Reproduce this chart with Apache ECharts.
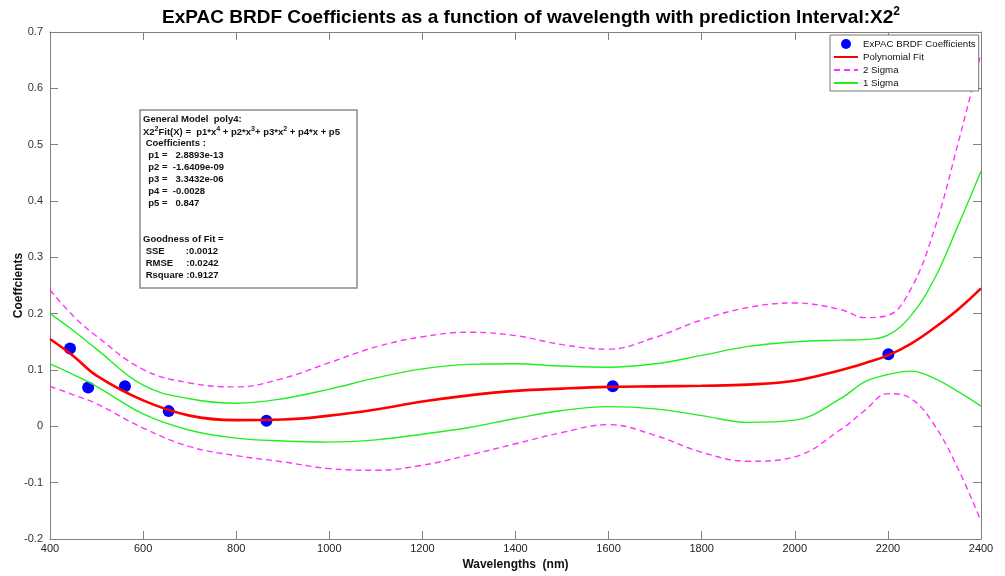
<!DOCTYPE html>
<html>
<head>
<meta charset="utf-8">
<script src="https://cdn.jsdelivr.net/npm/echarts@6/dist/echarts.min.js"></script>
<style>
  html, body { margin: 0; padding: 0; background: #fff; }
  #chart { width: 1005px; height: 576px; }
</style>
</head>
<body>
<div id="chart"></div>
<script>
// Measured band centres (nm) and the BRDF coefficient at each band
const bandWavelengths = [443, 482, 561, 655, 865, 1609, 2201];
const bandCoefficients = [0.138, 0.069, 0.071, 0.027, 0.010, 0.071, 0.128];

// Wavelength grid (nm) on which the fit and its bounds are tabulated
const curveWavelengths = [400, 450, 500, 600, 700, 800, 900, 1000, 1100, 1200, 1300, 1400, 1500,
  1600, 1700, 1800, 1900, 2000, 2100, 2150, 2200, 2250, 2300, 2350, 2400];

// Polynomial fit values
const fitValues = [0.155, 0.125, 0.090, 0.046, 0.019, 0.011, 0.012, 0.019, 0.030, 0.044, 0.055, 0.063, 0.067,
  0.070, 0.071, 0.072, 0.074, 0.081, 0.100, 0.112, 0.126, 0.147, 0.175, 0.207, 0.245];

// 1 sigma bounds
const sigma1Upper = [0.200, 0.170, 0.137, 0.073, 0.049, 0.041, 0.049, 0.066, 0.086, 0.102, 0.110, 0.111, 0.107,
  0.105, 0.111, 0.126, 0.142, 0.150, 0.153, 0.154, 0.162, 0.197, 0.262, 0.355, 0.453];
const sigma1Lower = [0.111, 0.092, 0.071, 0.022, -0.007, -0.021, -0.026, -0.028, -0.024, -0.014, -0.002, 0.014, 0.028,
  0.035, 0.031, 0.019, 0.007, 0.011, 0.050, 0.079, 0.092, 0.098, 0.085, 0.062, 0.036];

// 2 sigma bounds
const sigma2Upper = [0.242, 0.196, 0.160, 0.101, 0.077, 0.070, 0.085, 0.113, 0.141, 0.159, 0.167, 0.161, 0.145,
  0.137, 0.158, 0.189, 0.211, 0.219, 0.207, 0.193, 0.197, 0.245, 0.350, 0.500, 0.662];
const sigma2Lower = [0.071, 0.056, 0.040, -0.003, -0.036, -0.052, -0.063, -0.075, -0.078, -0.069, -0.051, -0.031, -0.011,
  0.003, -0.016, -0.046, -0.062, -0.054, -0.005, 0.028, 0.058, 0.049, 0.002, -0.074, -0.168];

// Axis ranges and tick spacing
const xRange = [400, 2400], xStep = 200;
const yRange = [-0.2, 0.7], yStep = 0.1;

// Fit summary shown in the annotation box
const modelLines = [
  ['General Model  poly4:'],
  ['X2', '2', 'Fit(X) =  p1*x', '4', ' + p2*x', '3', '+ p3*x', '2', ' + p4*x + p5'],
  [' Coefficients :'],
  ['  p1 =   2.8893e-13'],
  ['  p2 =  -1.6409e-09'],
  ['  p3 =   3.3432e-06'],
  ['  p4 =  -0.0028'],
  ['  p5 =   0.847'],
  [''],
  [''],
  ['Goodness of Fit ='],
  [' SSE        :0.0012'],
  [' RMSE     :0.0242'],
  [' Rsquare :0.9127']
];

const FONT = "'Liberation Sans', Arial, sans-serif";
const pairs = (xs, ys) => xs.map((x, i) => [x, ys[i]]);

// Alternate plain / superscript pieces into rich text
function richLine(parts) {
  return parts.map((p, i) => (i % 2 === 0 ? '{b|' + p + '}' : '{s|' + p + '}')).join('');
}

const boxLeft = 140, boxTop = 110, lineStep = 12;
const boxTexts = modelLines.map((parts, i) => ({
  type: 'text',
  left: boxLeft + 3,
  top: boxTop + 4 + i * lineStep,
  style: {
    text: richLine(parts),
    rich: {
      b: { fontSize: 9.5, fontWeight: 'bold', fontFamily: FONT, fill: '#111', lineHeight: 12 },
      s: { fontSize: 7, fontWeight: 'bold', fontFamily: FONT, fill: '#111', verticalAlign: 'top', lineHeight: 12 }
    }
  },
  z: 101
}));

const axisGray = '#7f7f7f';
const baseX = {
  type: 'value', min: xRange[0], max: xRange[1], interval: xStep,
  axisLine: { show: true, onZero: false, lineStyle: { color: axisGray, width: 1 } },
  axisTick: { show: true, inside: true, length: 8, lineStyle: { color: axisGray } },
  splitLine: { show: false }
};
const baseY = {
  type: 'value', min: yRange[0], max: yRange[1], interval: yStep,
  axisLine: { show: true, onZero: false, lineStyle: { color: axisGray, width: 1 } },
  axisTick: { show: true, inside: true, length: 8, lineStyle: { color: axisGray } },
  splitLine: { show: false }
};

const lineLegendItem = name => ({ name: name, itemStyle: { opacity: 0 } });

const chart = echarts.init(document.getElementById('chart'), null, { renderer: 'canvas' });
chart.setOption({
  animation: false,
  backgroundColor: '#fff',
  title: {
    text: '{t|ExPAC BRDF Coefficients as a function of wavelength with prediction Interval:X2}{s|2}',
    left: 157,
    top: 1,
    textStyle: {
      rich: {
        t: { fontSize: 19, fontWeight: 'bold', fontFamily: FONT, color: '#000', lineHeight: 24 },
        s: { fontSize: 12, fontWeight: 'bold', fontFamily: FONT, color: '#000', verticalAlign: 'top', lineHeight: 24 }
      }
    }
  },
  grid: { left: 50, right: 24, top: 32, bottom: 37, outerBoundsMode: 'none', containLabel: false },
  legend: {
    orient: 'vertical',
    left: 830, top: 35,
    itemWidth: 24, itemHeight: 10, itemGap: 3,
    padding: [4, 3, 3, 3],
    borderColor: '#777', borderWidth: 1, backgroundColor: '#fff',
    textStyle: { fontSize: 9.7, fontFamily: FONT, color: '#111' },
    data: [
      { name: 'ExPAC BRDF Coefficients', icon: 'circle' },
      lineLegendItem('Polynomial Fit'),
      lineLegendItem('2 Sigma'),
      lineLegendItem('1 Sigma')
    ]
  },
  xAxis: [
    Object.assign({}, baseX, {
      position: 'bottom',
      name: 'Wavelengths  (nm)', nameLocation: 'middle', nameGap: 20, nameMoveOverlap: false,
      nameTextStyle: { fontSize: 12, fontWeight: 'bold', fontFamily: FONT, color: '#111' },
      axisLabel: { fontSize: 11, fontFamily: FONT, color: '#222', margin: 4, formatter: v => String(v) }
    }),
    Object.assign({}, baseX, { position: 'top', axisLabel: { show: false } })
  ],
  yAxis: [
    Object.assign({}, baseY, {
      position: 'left',
      name: 'Coeffcients', nameLocation: 'middle', nameGap: 25, nameRotate: 90, nameMoveOverlap: false,
      nameTextStyle: { fontSize: 12, fontWeight: 'bold', fontFamily: FONT, color: '#111' },
      axisLabel: { fontSize: 11, fontFamily: FONT, color: '#333', margin: 7 }
    }),
    Object.assign({}, baseY, { position: 'right', axisLabel: { show: false } })
  ],
  graphic: [
    {
      type: 'rect',
      shape: { x: boxLeft, y: boxTop, width: 217, height: 178 },
      style: { fill: '#fff', stroke: '#8a8a8a', lineWidth: 1.5 },
      z: 100
    }
  ].concat(boxTexts),
  series: [
    {
      name: 'ExPAC BRDF Coefficients',
      type: 'scatter',
      data: pairs(bandWavelengths, bandCoefficients),
      symbol: 'circle', symbolSize: 12,
      itemStyle: { color: '#0000ff', opacity: 1 },
      z: 2
    },
    {
      name: 'Polynomial Fit',
      type: 'line',
      data: pairs(curveWavelengths, fitValues),
      smooth: 0.4, symbol: 'none',
      lineStyle: { color: '#ff0000', width: 2.6 },
      itemStyle: { color: '#ff0000' },
      z: 4
    },
    {
      name: '2 Sigma',
      type: 'line',
      data: pairs(curveWavelengths, sigma2Upper),
      smooth: 0.4, symbol: 'none',
      lineStyle: { color: '#ff33ff', width: 1.4, type: [6, 4] },
      itemStyle: { color: '#ff33ff' },
      z: 3
    },
    {
      name: '2 Sigma',
      type: 'line',
      data: pairs(curveWavelengths, sigma2Lower),
      smooth: 0.4, symbol: 'none',
      lineStyle: { color: '#ff33ff', width: 1.4, type: [6, 4] },
      itemStyle: { color: '#ff33ff' },
      z: 3
    },
    {
      name: '1 Sigma',
      type: 'line',
      data: pairs(curveWavelengths, sigma1Upper),
      smooth: 0.4, symbol: 'none',
      lineStyle: { color: '#22ee22', width: 1.4 },
      itemStyle: { color: '#22ee22' },
      z: 3
    },
    {
      name: '1 Sigma',
      type: 'line',
      data: pairs(curveWavelengths, sigma1Lower),
      smooth: 0.4, symbol: 'none',
      lineStyle: { color: '#22ee22', width: 1.4 },
      itemStyle: { color: '#22ee22' },
      z: 3
    }
  ]
});
</script>
</body>
</html>
